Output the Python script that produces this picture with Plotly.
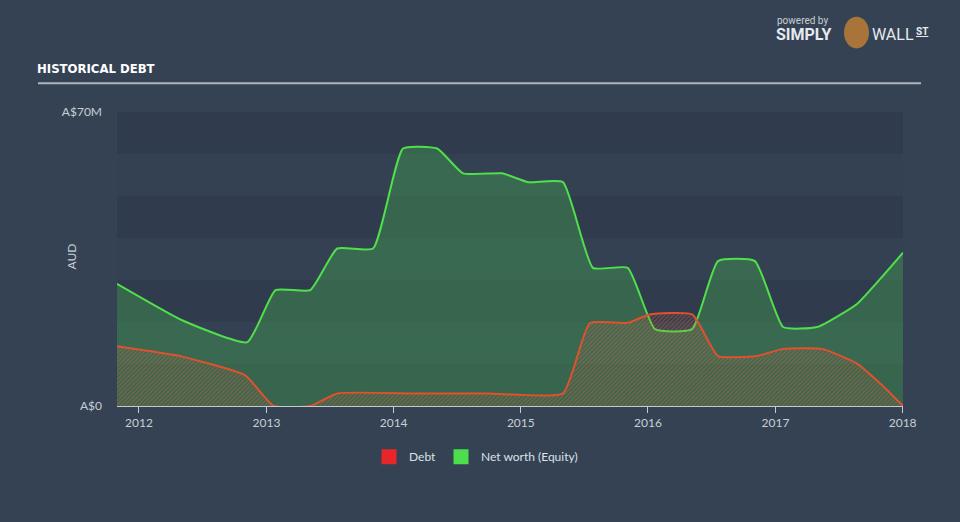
import plotly.graph_objects as go

# ---- data (A$ millions) ----
equity_dates = ["2011-10-30", "2012-05-07", "2012-11-07", "2013-01-27", "2013-05-07",
                "2013-07-23", "2013-11-03", "2014-01-28", "2014-05-06", "2014-07-19",
                "2014-11-08", "2015-01-22", "2015-05-02", "2015-07-27", "2015-11-04",
                "2016-01-21", "2016-05-07", "2016-07-20", "2016-11-03", "2017-01-23",
                "2017-05-01", "2017-08-23", "2017-10-28", "2018-01-02"]
equity_values = [29.1, 20.3, 15.2, 27.6, 27.6,
                 37.5, 37.5, 61.3, 61.3, 55.4,
                 55.4, 53.3, 53.3, 32.9, 32.9,
                 18.3, 18.3, 34.5, 34.5, 18.8,
                 18.8, 24.3, 30.2, 36.5]

debt_dates = ["2011-10-30", "2012-05-07", "2012-11-01", "2013-01-22", "2013-05-07",
              "2013-07-23", "2014-03-01", "2014-10-01", "2015-05-02", "2015-07-18",
              "2015-11-04", "2016-01-06", "2016-05-07", "2016-07-20", "2016-11-08",
              "2017-01-23", "2017-05-15", "2017-08-23", "2017-10-28", "2018-01-02"]
debt_values = [14.2, 11.7, 7.3, 0.0, 0.0,
               3.0, 3.0, 3.0, 3.0, 19.7,
               19.8, 21.8, 21.8, 11.9, 11.9,
               13.6, 13.6, 10.1, 5.4, 0.0]

y_tick_vals = [0, 70]
y_tick_text = ["A$0", "A$70M"]
band_edges = [0, 10, 20, 30, 40, 50, 60, 70]

BG = "#344254"
BAND_DARK = "#303c4d"
BAND_LIGHT = "#344152"
TXT = "#c9ced6"
FONT = "Lato"
SMOOTH = 0.45

fig = go.Figure()

fig.add_trace(go.Scatter(
    x=equity_dates, y=equity_values, mode="lines", name="Net worth (Equity)",
    line=dict(color="#4fe04a", width=2, shape="spline", smoothing=SMOOTH),
    fill="tozeroy", fillcolor="rgba(72,200,84,0.30)", showlegend=False,
    hoverinfo="skip"))

fig.add_trace(go.Scatter(
    x=debt_dates, y=debt_values, mode="lines", name="Debt",
    line=dict(color="#e2512d", width=2, shape="spline", smoothing=SMOOTH),
    fill="tozeroy", fillcolor="rgba(0,0,0,0)",
    fillpattern=dict(shape="/", fgcolor="rgba(215,100,60,0.85)", bgcolor="rgba(0,0,0,0)",
                     size=3, solidity=0.45),
    showlegend=False, hoverinfo="skip"))

# legend-only entries
fig.add_trace(go.Scatter(x=[None], y=[None], mode="markers", name="Debt",
                         marker=dict(symbol="square", size=15, color="#e8262a")))
fig.add_trace(go.Scatter(x=[None], y=[None], mode="markers", name="Net worth (Equity)",
                         marker=dict(symbol="square", size=15, color="#4be04b")))

shapes = []
for i in range(len(band_edges) - 1):
    shapes.append(dict(type="rect", xref="paper", yref="y", x0=0, x1=1,
                       y0=band_edges[i], y1=band_edges[i + 1], layer="below",
                       line=dict(width=0),
                       fillcolor=BAND_DARK if (len(band_edges) - 2 - i) % 2 == 0 else BAND_LIGHT))
# title underline
shapes.append(dict(type="line", xref="paper", yref="paper", x0=-0.1005, x1=1.0229,
                   y0=1.098, y1=1.098, line=dict(color="#aeb4bd", width=2)))
# logo badge
shapes.append(dict(type="circle", xref="paper", yref="paper",
                   x0=(844 - 117) / 786, x1=(869 - 117) / 786,
                   y0=(406 - 46) / 296, y1=(406 - 14) / 296,
                   fillcolor="#a9743a", line=dict(width=0)))

annotations = [
    dict(text="AUD", xref="paper", yref="paper", x=(62 - 117) / 786, y=(406 - 256) / 296,
         textangle=-90, showarrow=False, font=dict(color=TXT, size=12, family=FONT)),
    dict(text="powered by", xref="paper", yref="paper", x=(775 - 117) / 786,
         y=(406 - 18) / 296, xanchor="left", yanchor="middle", showarrow=False,
         font=dict(color="#c9ced6", size=10, family="Roboto")),
    dict(text="<b>SIMPLY</b>", xref="paper", yref="paper", x=(774 - 117) / 786,
         y=(406 - 32) / 296, xanchor="left", yanchor="middle", showarrow=False,
         font=dict(color="#e6e9ee", size=16, family="Roboto")),
    dict(text="WALL", xref="paper", yref="paper", x=(870 - 117) / 786,
         y=(406 - 32) / 296, xanchor="left", yanchor="middle", showarrow=False,
         font=dict(color="#e6e9ee", size=16, family="Roboto")),
    dict(text="<b><u>ST</u></b>", xref="paper", yref="paper", x=(914 - 117) / 786,
         y=(406 - 29) / 296, xanchor="left", yanchor="middle", showarrow=False,
         font=dict(color="#e6e9ee", size=10, family="Roboto")),
]

fig.update_layout(
    width=960, height=522,
    paper_bgcolor=BG, plot_bgcolor=BAND_LIGHT,
    margin=dict(l=117, r=57, t=112, b=116),
    title=dict(text="<b>HISTORICAL DEBT</b>", x=37 / 960, xanchor="left",
               y=1 - 68 / 522, yanchor="middle",
               font=dict(family="DejaVu Sans Condensed, Liberation Sans Narrow, Roboto",
                         size=13, color="#ffffff")),
    xaxis=dict(type="date", range=["2011-10-30", "2018-01-02"],
               tick0="2012-01-01", dtick="M12", tickformat="%Y",
               showgrid=False, zeroline=False, showline=True, linecolor="#c4cad3",
               linewidth=1, ticks="outside", ticklen=6, tickcolor="#c4cad3",
               tickfont=dict(color=TXT, size=12, family=FONT)),
    yaxis=dict(range=[0, 70], tickvals=y_tick_vals, ticktext=y_tick_text,
               showgrid=False, zeroline=False, showline=False, ticks="",
               ticklabelstandoff=14,
               tickfont=dict(color=TXT, size=12, family=FONT)),
    legend=dict(orientation="h", x=(476 - 117) / 786, xanchor="center",
                y=-(457 - 406) / 296, yanchor="middle",
                font=dict(color="#dde1e6", size=12, family=FONT),
                bgcolor="rgba(0,0,0,0)", itemwidth=30),
    shapes=shapes, annotations=annotations,
)

fig.write_html("out.html")
